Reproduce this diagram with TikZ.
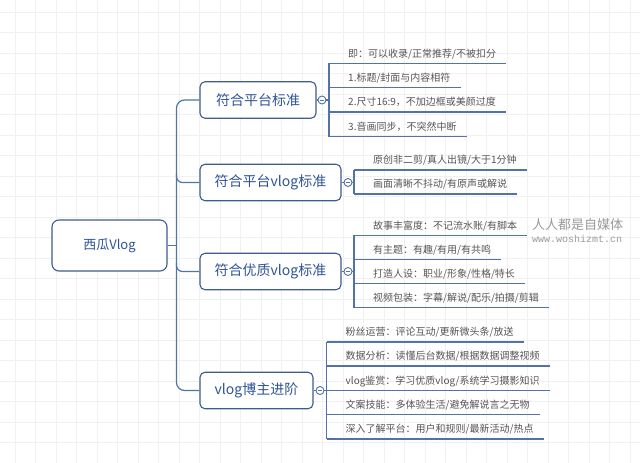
\documentclass[tikz,border=0pt]{standalone}
\usepackage{fontspec}
\setmainfont{Noto Sans CJK SC}
\newfontfamily\monofont{Liberation Mono}
\definecolor{linecol}{HTML}{5272A8}
\definecolor{boxcol}{HTML}{3F5C8E}
\definecolor{topictext}{HTML}{2F5496}
\definecolor{leaftext}{HTML}{555555}
\definecolor{wmark}{HTML}{9A9A9A}
\definecolor{gridcol}{HTML}{F1F1F1}
\tikzset{
  gridline/.style={color=gridcol,line width=1pt},
  branch/.style={color=linecol,line width=1.2pt},
  leafline/.style={color=linecol,line width=1.1pt},
  rootbox/.style={draw=boxcol,line width=1.1pt,fill=white,rounded corners=7pt,
    minimum width=115pt,minimum height=51pt,text=topictext,font=\fontsize{13}{15}\selectfont},
  topic/.style={draw=boxcol,line width=1.1pt,fill=white,rounded corners=5pt,
    minimum height=36.5pt,text=topictext,font=\fontsize{14}{16}\selectfont},
  toggle/.style={circle,draw=linecol,line width=0.9pt,fill=white,minimum size=8pt,inner sep=0pt,
    path picture={\draw[linecol,line width=0.6pt] ([xshift=-2pt]path picture bounding box.center) -- ([xshift=2pt]path picture bounding box.center);}},
  leaf/.style={anchor=south west,inner xsep=10pt,inner ysep=0pt,text height=9pt,text depth=6pt,
    text=leaftext,font=\fontsize{10}{12}\selectfont,execute at begin node=\hspace*{9pt}},
  watermark/.style={anchor=west,inner sep=0pt,text=wmark}
}
\begin{document}
\begin{tikzpicture}[x=1pt,y=-1pt]
  \useasboundingbox (0,0) rectangle (640,463);
  \fill[white] (0,0) rectangle (640,463);
  % grid
  \foreach \x in {15,35.5,...,640} \draw[gridline] (\x,0) -- (\x,463);
  \foreach \y in {12,32.5,...,463} \draw[gridline] (0,\y) -- (640,\y);

  % root and main topics
  \node[rootbox] (root) at (109.5,245.5) {西瓜Vlog};
  \node[topic,minimum width=116pt] (t1) at (258,100) {符合平台标准};
  \node[topic,minimum width=141pt] (t2) at (270.5,182.5) {符合平台vlog标准};
  \node[topic,minimum width=141pt] (t3) at (270.5,271.5) {符合优质vlog标准};
  \node[topic,minimum width=113pt] (t4) at (256.5,390.5) {vlog博主进阶};

  \coordinate (trunk) at (176.5,245.5);
  \draw[branch] (root) -- (trunk);
  \draw[branch,rounded corners=8pt] (t1.west) -| (trunk) |- (t4.west);
  \draw[branch,rounded corners=6pt] (trunk |- t2.west) ++(0,-9) |- (t2.west);
  \draw[branch,rounded corners=6pt] (trunk |- t3.west) ++(0,-9) |- (t3.west);

  % leaves
  \node[leaf] (a1) at (329,63.3) {即：可以收录/正常推荐/不被扣分};
  \node[leaf] (a2) at (329,87.7) {1.标题/封面与内容相符};
  \node[leaf] (a3) at (329,112) {2.尺寸16:9，不加边框或美颜过度};
  \node[leaf] (a4) at (329,136.7) {3.音画同步，不突然中断};

  \node[leaf] (b1) at (354,170) {原创非二剪/真人出镜/大于1分钟};
  \node[leaf] (b2) at (354,194) {画面清晰不抖动/有原声或解说};

  \node[leaf] (c1) at (354,235.3) {故事丰富度：不记流水账/有脚本};
  \node[leaf] (c2) at (354,259.3) {有主题：有趣/有用/有共鸣};
  \node[leaf] (c3) at (354,283.3) {打造人设：职业/形象/性格/特长};
  \node[leaf] (c4) at (354,307.7) {视频包装：字幕/解说/配乐/拍摄/剪辑};

  \node[leaf] (d1) at (326.5,342) {粉丝运营：评论互动/更新微头条/放送};
  \node[leaf] (d2) at (326.5,366) {数据分析：读懂后台数据/根据数据调整视频};
  \node[leaf] (d3) at (326.5,390.5) {vlog鉴赏：学习优质vlog/系统学习摄影知识};
  \node[leaf] (d4) at (326.5,414.7) {文案技能：多体验生活/避免解说言之无物};
  \node[leaf] (d5) at (326.5,439) {深入了解平台：用户和规则/最新活动/热点};

  \foreach \n in {a1,a2,a3,a4,b1,b2,c1,c2,c3,c4,d1,d2,d3,d4,d5}
    \draw[leafline] (\n.south west) -- (\n.south east);
  \draw[leafline] (a1.south west) -- (a4.south west);
  \draw[leafline] (b1.south west) -- (b2.south west);
  \draw[leafline] (c1.south west) -- (c4.south west);
  \draw[leafline] (d1.south west) -- (d5.south west);

  % collapse buttons
  \node[toggle] (s1) at (322,100) {};
  \node[toggle] (s2) at (348,182.5) {};
  \node[toggle] (s3) at (348,271.5) {};
  \node[toggle] (s4) at (320,390.5) {};
  \draw[branch] (t1) -- (s1);
  \draw[branch] (t2) -- (s2);
  \draw[branch] (t3) -- (s3);
  \draw[branch] (t4) -- (s4);
  \draw[leafline] (s1) -- (s1 -| a1.south west);
  \draw[leafline] (s2) -- (s2 -| b1.south west);
  \draw[leafline] (s3) -- (s3 -| c1.south west);
  \draw[leafline] (s4) -- (s4 -| d1.south west);

  % watermark
  \node[watermark,font=\fontsize{13}{15}\selectfont] (wm1) at (532,225) {人人都是自媒体};
  \node[watermark,font=\monofont\fontsize{10}{12}\selectfont] (wm2) at (532,239) {www.woshizmt.cn};
\end{tikzpicture}
\end{document}
